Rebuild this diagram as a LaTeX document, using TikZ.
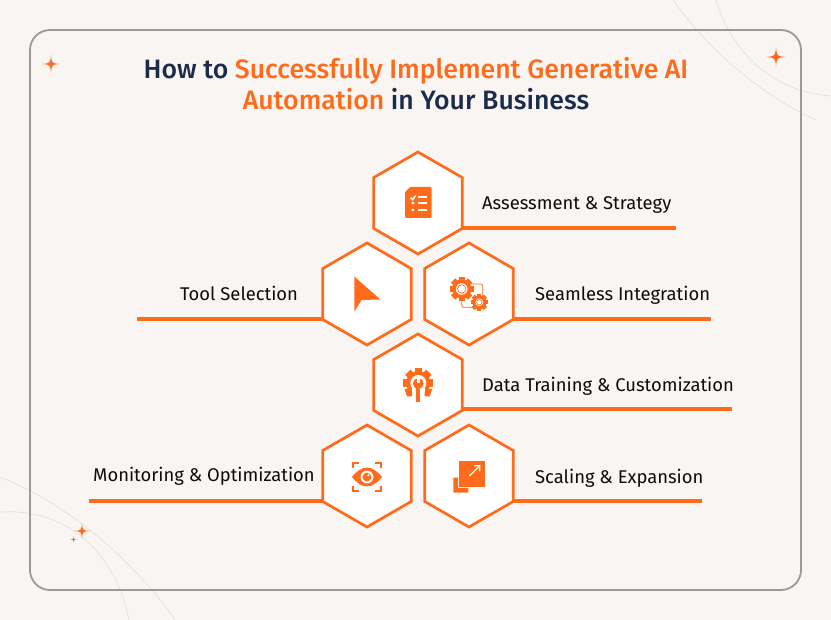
\documentclass[tikz,border=0pt]{standalone}
\usepackage{fontspec}
\setmainfont{Fira Sans}
\newfontfamily\medf{Fira Sans Medium}
\usetikzlibrary{shapes.geometric}
\definecolor{org}{HTML}{FF6B1A}
\definecolor{navy}{HTML}{1B2B4B}
\definecolor{paper}{HTML}{F8F5F2}
\definecolor{frameg}{HTML}{9C9A98}
\definecolor{arcg}{HTML}{E2E0DE}
\tikzset{
 hexa/.style={regular polygon,regular polygon sides=6,shape border rotate=30,minimum size=102pt,inner sep=0pt,outer sep=0pt,draw=org,line width=2.7pt,fill=white},
 lead/.style={draw=org,line width=3.3pt},
 lab/.style={anchor=base west,inner sep=0pt,font=\fontsize{18.4}{20}\selectfont\color{black!95}},
 ttl/.style={inner sep=0pt,anchor=base,font=\medf\fontsize{26.6}{30}\selectfont\color{navy}},
 arcline/.style={draw=arcg,line width=0.7pt},
}
\newcommand{\gearicon}[3]{% x y r
 \fill[org] (#1,#2) circle ({0.8*#3});
 \foreach \a in {0,45,...,315}
  \fill[org,shift={(#1,#2)},rotate=\a] ({-0.25*#3},{0.6*#3}) rectangle ({0.25*#3},{#3});
}
\newcommand{\sparkle}[3]{% x y size
 \fill[org] (#1,#2-#3) .. controls (#1+0.08*#3,#2-0.08*#3) .. (#1+#3,#2)
  .. controls (#1+0.08*#3,#2+0.08*#3) .. (#1,#2+#3)
  .. controls (#1-0.08*#3,#2+0.08*#3) .. (#1-#3,#2)
  .. controls (#1-0.08*#3,#2-0.08*#3) .. cycle;
}
\begin{document}
\begin{tikzpicture}[x=1pt,y=-1pt]
\useasboundingbox (0,0) rectangle (831,620);
\fill[paper] (0,0) rectangle (831,620);
% background arcs
\draw[arcline] (673,0) .. controls (700,38) and (750,90) .. (816,120);
\draw[arcline] (716,0) .. controls (730,48) and (770,92) .. (831,96);
\draw[arcline] (0,477) .. controls (60,500) and (130,555) .. (175,620);
\draw[arcline] (0,512) .. controls (65,508) and (115,550) .. (129,620);
% frame
\draw[frameg,line width=1.8pt,rounded corners=20pt] (30,30) rectangle (801,590);
% sparkles
\sparkle{51}{64}{9}
\sparkle{776}{57}{10}
\sparkle{82}{531}{8}
\sparkle{73.5}{539.5}{3}
% title
\node[ttl] (t1) at (416,79) {How to \textcolor{org}{Successfully Implement Generative AI}};
\node[ttl] (t2) at (416,110) {\textcolor{org}{Automation} in Your Business};
% hexagons
\node[hexa] (h1) at (418,203) {};
\node[hexa] (h2) at (367,294) {};
\node[hexa] (h3) at (469,294) {};
\node[hexa] (h4) at (418,385) {};
\node[hexa] (h5) at (367,476) {};
\node[hexa] (h6) at (469,476) {};
% leads
\coordinate (e1) at (676,228);
\coordinate (e2) at (137,319);
\coordinate (e3) at (711,319);
\coordinate (e4) at (732,409);
\coordinate (e5) at (89,501);
\coordinate (e6) at (702,501);
\draw[lead] (h1.330 |- e1) -- (e1);
\draw[lead] (h2.210 |- e2) -- (e2);
\draw[lead] (h3.330 |- e3) -- (e3);
\draw[lead] (h4.330 |- e4) -- (e4);
\draw[lead] (h5.210 |- e5) -- (e5);
\draw[lead] (h6.330 |- e6) -- (e6);
% labels
\node[lab] (l1) at (482,210) {Assessment \& Strategy};
\node[lab] (l2) at (180,301) {Tool Selection};
\node[lab] (l3) at (535,301) {Seamless Integration};
\node[lab] (l4) at (482,392) {Data Training \& Customization};
\node[lab] (l5) at (93,482) {Monitoring \& Optimization};
\node[lab] (l6) at (535,484) {Scaling \& Expansion};
% icon: document
\fill[org,rounded corners=1pt] (410,187) -- (431.5,187) -- (431.5,218) -- (405,218) -- (405,192) -- cycle;
\draw[white,line width=1.5pt] (410.5,197.5) -- (412.6,199.6) -- (415.8,195.5);
\fill[white] (411.5,202) rectangle (414,204.2) (411.5,208.8) rectangle (414,211);
\draw[white,line width=2pt] (418,197.5) -- (427,197.5) (418,203.5) -- (427,203.5) (418,210) -- (427,210);
% icon: pointer
\fill[org] (354.3,276.5) -- (380.3,299.5) -- (361.7,300) -- (354.3,311.5) -- cycle;
% icon: gears
\draw[org,line width=0.9pt,rounded corners=1.5pt] (471,284) -- (482.7,284) -- (482.7,296);
\draw[org,line width=0.9pt,rounded corners=1.5pt] (461.7,298) -- (461.7,307.3) -- (472,307.3);
\gearicon{461.7}{289}{12}
\fill[white] (461.7,289) circle (5.8);
\fill[org] (461.7,289) circle (4.6);
\fill[white] (461.7,289) circle (3.7);
\gearicon{479.3}{302.3}{8.7}
\fill[white] (479.3,302.3) circle (3.9);
\fill[org] (479.3,302.3) circle (3);
\fill[white] (479.3,302.3) circle (2.2);
% icon: wrench gear
\gearicon{418.3}{383}{15}
\fill[white] (418.3,383) circle (8);
\fill[white] (412,388) rectangle (424.6,400);
\fill[org] (404.5,389) -- (409.8,389) -- (412,392.5) -- (412,396.5) -- (407,396.5) -- cycle;
\fill[org] (432.1,389) -- (426.8,389) -- (424.6,392.5) -- (424.6,396.5) -- (429.6,396.5) -- cycle;
\fill[org] (416.4,386) rectangle (420.2,402);
\fill[org] (418.3,383.5) circle (5.4);
\fill[white] (416.6,376) rectangle (420,383);
% icon: eye
\fill[org] (352,477) .. controls (362,464.5) and (372,464.5) .. (382,477)
 .. controls (372,489.5) and (362,489.5) .. cycle;
\fill[white] (367,477) circle (6.4);
\fill[org] (367,477) circle (4.4);
\fill[white] (368.4,475.2) circle (1.3);
\draw[org,line width=1.6pt] (352.8,468) -- (352.8,463) -- (359,463)
 (375,463) -- (381.2,463) -- (381.2,468)
 (381.2,486) -- (381.2,491) -- (375,491)
 (359,491) -- (352.8,491) -- (352.8,486);
% icon: scale
\fill[org] (453.3,477.7) -- (458,477.7) -- (458,488) -- (468.3,488) -- (468.3,492.7) -- (453.3,492.7) -- cycle;
\fill[org] (459,461) rectangle (485,486.7);
\draw[white,line width=1.2pt] (469.3,476) -- (479.8,465.8) (474.3,465.8) -- (479.8,465.8) -- (479.8,471.3);
\end{tikzpicture}
\end{document}
